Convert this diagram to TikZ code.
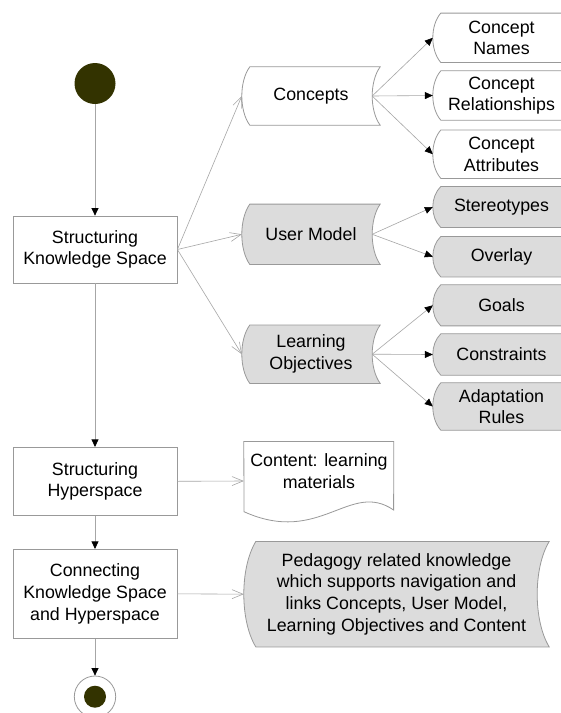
\documentclass[tikz,border=0pt]{standalone}
\usepackage{fontspec}
\setmainfont{Liberation Sans}
\usetikzlibrary{arrows.meta,calc}
\pgfdeclarelayer{bottom}
\pgfdeclarelayer{shapes}
\pgfsetlayers{bottom,shapes,main}
\definecolor{edgegray}{HTML}{999999}
\definecolor{linegray}{HTML}{A6A6A6}
\definecolor{shadegray}{HTML}{DCDCDC}
\definecolor{darkolive}{HTML}{333300}
\tikzset{
  every node/.style={font=\fontsize{17.8}{21.7}\selectfont},
  shapeline/.style={draw=edgegray, line width=0.8pt},
  procbox/.style={shapeline, minimum width=164pt, inner sep=0pt, align=center},
  sdnode/.style={minimum width=138pt, inner sep=0pt, align=center},
  rnode/.style={minimum width=137pt, inner sep=0pt, align=center},
  flow/.style={draw=linegray, line width=0.7pt, -{Triangle[length=7.5pt,width=7pt,color=black]}},
  flowd/.style={draw=linegray, line width=0.6pt, -{Triangle[length=8pt,width=7pt,color=black]}},
  assoc/.style={draw=linegray, line width=0.6pt, -{Straight Barb[length=11pt,width=9pt,color=linegray]}}
}
\newcommand\sdoutline[3]{%
  \path[shapeline, fill=#2]
   ([xshift=#3pt]#1.north west) -- (#1.north east)
   .. controls ($(#1.north east)!0.25!(#1.south east)+(-4/3*#3pt,0)$) and ($(#1.north east)!0.75!(#1.south east)+(-4/3*#3pt,0)$) .. (#1.south east)
   -- ([xshift=#3pt]#1.south west)
   .. controls ($(#1.north west)!0.75!(#1.south west)+(-#3pt/3,0)$) and ($(#1.north west)!0.25!(#1.south west)+(-#3pt/3,0)$) .. ([xshift=#3pt]#1.north west)
   -- cycle;}
\begin{document}
\begin{tikzpicture}[x=1pt,y=-1pt]
\useasboundingbox (0,0) rectangle (561,713);
\begin{pgfonlayer}{bottom}
\fill[white] (0,0) rectangle (561,713);
\end{pgfonlayer}

% left column
\node[circle, fill=darkolive, minimum size=41pt, inner sep=0pt] (start) at (95,83.5) {};
\node[procbox, minimum height=67pt] (sks) at (95,249.5) {Structuring\\Knowledge Space};
\node[procbox, minimum height=68pt] (sh) at (95,481.3) {Structuring\\Hyperspace};
\node[procbox, minimum height=89pt] (ckh) at (95,593.8) {Connecting\\Knowledge Space\\and Hyperspace};
\node[circle, shapeline, minimum size=41.4pt, inner sep=0pt,
  path picture={\fill[darkolive] (path picture bounding box.center) circle (11pt);}] (end) at (95,696.7) {};

% middle column
\node[sdnode, minimum height=58pt] (concepts) at (311,96) {Concepts};
\node[sdnode, minimum height=60pt] (usermodel) at (311,234.3) {User Model};
\node[sdnode, minimum height=58pt] (lo) at (311,354.2) {Learning\\Objectives};

% right column
\node[rnode, minimum height=49pt] (cn) at (501.5,37.8) {Concept\\Names};
\node[rnode, minimum height=49pt] (cr) at (501.5,95.5) {Concept\\Relationships};
\node[rnode, minimum height=48pt] (ca) at (501.5,154.2) {Concept\\Attributes};
\node[rnode, minimum height=40.6pt] (st) at (501.5,207) {Stereotypes};
\node[rnode, minimum height=40pt] (ov) at (501.5,256.7) {Overlay};
\node[rnode, minimum height=40.7pt] (go) at (501.5,305.3) {Goals};
\node[rnode, minimum height=41pt] (cs) at (501.5,354.5) {Constraints};
\node[rnode, minimum height=47pt] (ar) at (501.5,406.5) {Adaptation\\Rules};

% bottom right
\node[minimum width=149.6pt, minimum height=78.6pt, inner sep=0pt] (contentdoc) at (318.8,481) {};
\node[align=center, inner sep=0pt] (contenttext) at (319,470.8) {Content: learning\\materials};
\node[minimum width=305pt, minimum height=105pt, inner sep=0pt, align=center] (pedagogy) at (396.5,594.2)
  {Pedagogy related knowledge\\which supports navigation and\\links Concepts, User Model,\\Learning Objectives and Content};

\begin{pgfonlayer}{shapes}
\sdoutline{concepts}{white}{8}
\sdoutline{usermodel}{shadegray}{8}
\sdoutline{lo}{shadegray}{8}
\sdoutline{cn}{white}{8}
\sdoutline{cr}{white}{8}
\sdoutline{ca}{white}{8}
\sdoutline{st}{shadegray}{8}
\sdoutline{ov}{shadegray}{8}
\sdoutline{go}{shadegray}{8}
\sdoutline{cs}{shadegray}{8}
\sdoutline{ar}{shadegray}{8}
\sdoutline{pedagogy}{shadegray}{12}
\path[shapeline, fill=white] (contentdoc.north west) -- (contentdoc.north east) -- (393.6,510)
  .. controls (350,480) and (320,546) .. (244,511.7) -- cycle;
\end{pgfonlayer}

% connectors
\draw[flow] (start) -- (sks);
\draw[flow] (sks) -- (sh);
\draw[flow] (sh) -- (ckh);
\draw[flow] (ckh) -- (end);
\draw[assoc] (sks.east) -- (concepts.west);
\draw[assoc] (sks.east) -- (usermodel.west);
\draw[assoc] (sks.east) -- (lo.west);
\draw[assoc] (sh.east) -- (contentdoc.west);
\draw[assoc] (ckh.east) -- (pedagogy.west);
\draw[flowd] ([xshift=-8pt]concepts.east) -- (cn.west);
\draw[flowd] ([xshift=-8pt]concepts.east) -- (cr.west);
\draw[flowd] ([xshift=-8pt]concepts.east) -- (ca.west);
\draw[flowd] ([xshift=-8pt]usermodel.east) -- (st.west);
\draw[flowd] ([xshift=-8pt]usermodel.east) -- (ov.west);
\draw[flowd] ([xshift=-8pt]lo.east) -- (go.west);
\draw[flowd] ([xshift=-8pt]lo.east) -- (cs.west);
\draw[flowd] ([xshift=-8pt]lo.east) -- (ar.west);
\end{tikzpicture}
\end{document}
